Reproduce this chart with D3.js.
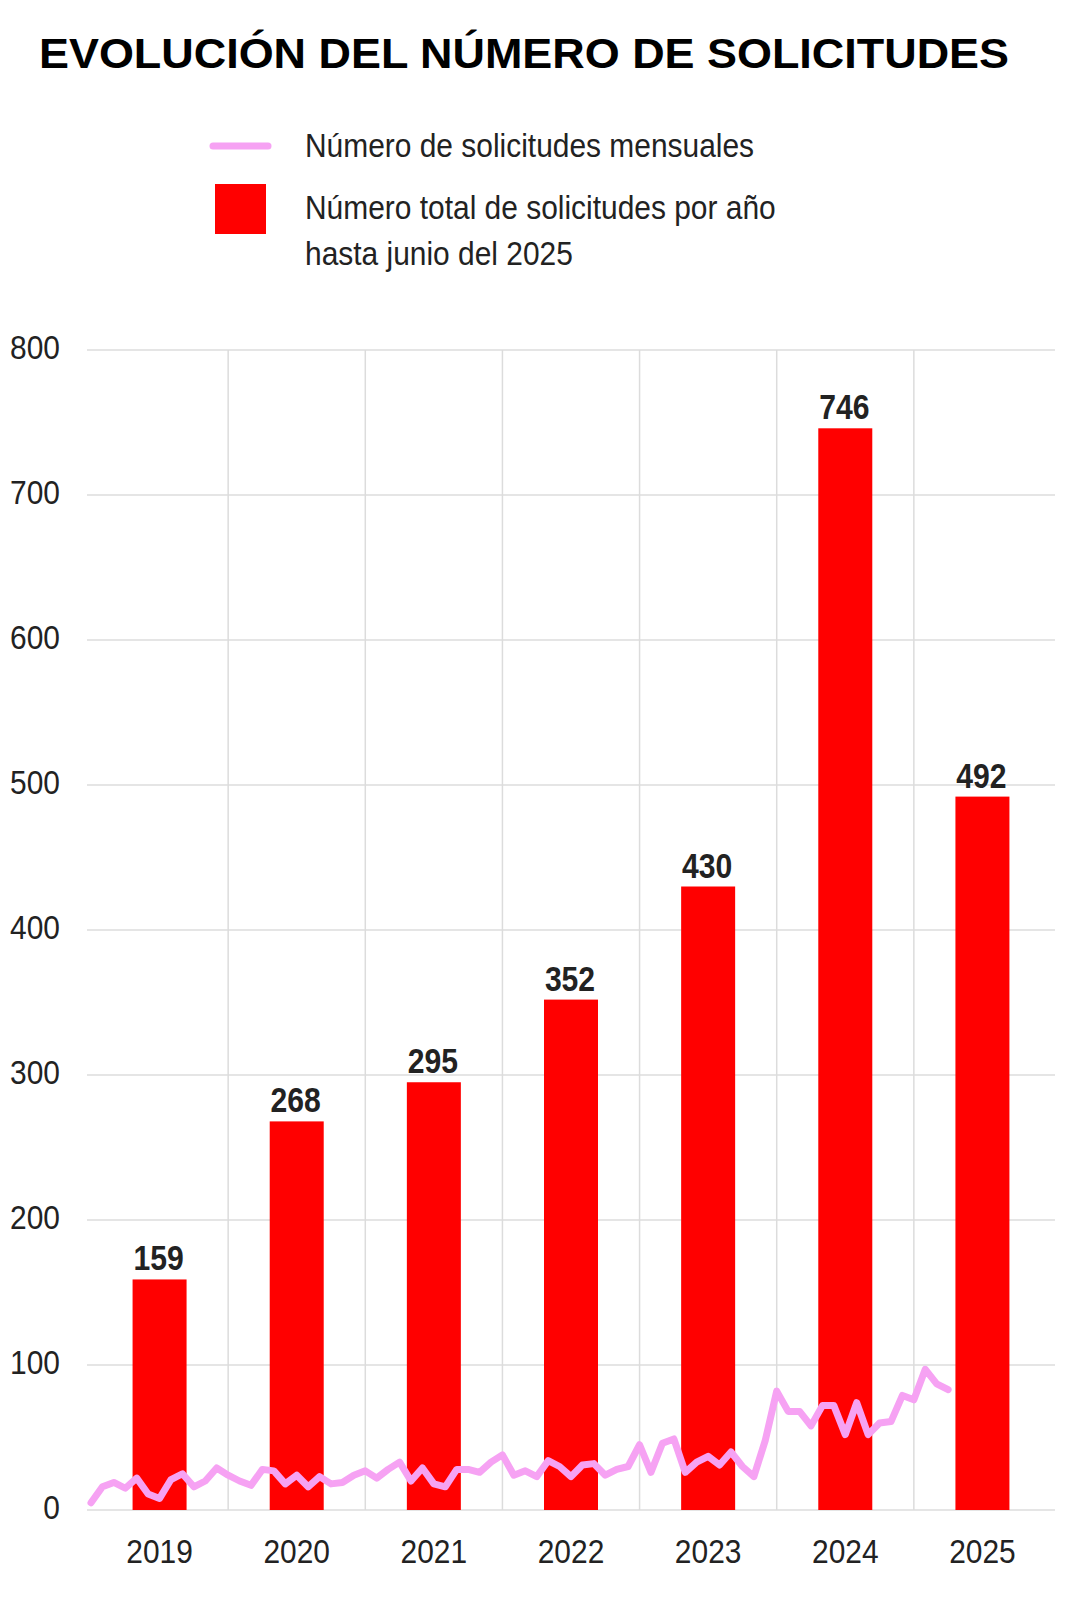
<!DOCTYPE html>
<html>
<head>
<meta charset="utf-8">
<script src="https://cdn.jsdelivr.net/npm/d3@7"></script>
<style>
  body { margin: 0; background: #fff; }
  text { font-family: "Liberation Sans", Arial, sans-serif; }
</style>
</head>
<body>
<div id="chart"></div>
<script>
// yearly totals (bars)
const years = ["2019", "2020", "2021", "2022", "2023", "2024", "2025"]
const totals = [159, 268, 295, 352, 430, 746, 492]

// monthly requests, from Jan 2019 onwards (line)
const monthly = [
  5, 16, 19, 15, 22, 11, 8, 21, 25, 16, 20, 29,
  24, 20, 17, 28, 27, 18, 24, 16, 23, 18, 19, 24,
  27, 22, 28, 33, 20, 29, 18, 16, 28, 28, 26, 33,
  38, 24, 27, 23, 34, 30, 23, 31, 32, 24, 28, 30,
  45, 26, 46, 49, 26, 33, 37, 31, 40, 30, 23, 48,
  82, 68, 68, 58, 72, 72, 52, 74, 52, 60, 61, 79,
  76, 97, 87, 83
]

const yTicks = [0, 100, 200, 300, 400, 500, 600, 700, 800]

const W = 1066, H = 1600
const narrow = 0.88   // squeeze regular text to look like a condensed face

const svg = d3.select("#chart")
  .append("svg")
    .attr("width", W)
    .attr("height", H)

// squeeze a text selection horizontally
const condense = (sel, k) => sel.each(function () {
  const w = this.getComputedTextLength()
  this.setAttribute("textLength", w * k)
  this.setAttribute("lengthAdjust", "spacingAndGlyphs")
})

// title
svg.append("text")
  .attr("x", 39)
  .attr("y", 68)
  .attr("font-size", 43)
  .attr("font-weight", "bold")
  .attr("fill", "#000")
  .attr("textLength", 970)
  .attr("lengthAdjust", "spacingAndGlyphs")
  .text("EVOLUCIÓN DEL NÚMERO DE SOLICITUDES")

// legend
const legend = svg.append("g")
legend.append("line")
  .attr("x1", 213).attr("x2", 268)
  .attr("y1", 146).attr("y2", 146)
  .attr("stroke", "#f6a2f3")
  .attr("stroke-width", 7)
  .attr("stroke-linecap", "round")
legend.append("rect")
  .attr("x", 215).attr("y", 184)
  .attr("width", 51).attr("height", 50)
  .attr("fill", "#ff0000")
legend.selectAll("text.lg")
  .data([["Número de solicitudes mensuales", 157],
         ["Número total de solicitudes por año", 219],
         ["hasta junio del 2025", 265]])
  .join("text")
    .attr("class", "lg")
    .attr("x", 305)
    .attr("y", d => d[1])
    .attr("font-size", 34)
    .attr("fill", "#222")
    .text(d => d[0])
    .call(condense, narrow)

// scales
const x = d3.scaleBand()
  .domain(years)
  .range([91, 1051])
  .padding(0)

const xm = d3.scaleLinear()
  .domain([0, years.length * 12])
  .range(x.range())

const y = d3.scaleLinear()
  .domain([0, 800])
  .range([1510, 350])

// horizontal grid
svg.append("g")
  .selectAll("line")
  .data(yTicks)
  .join("line")
    .attr("x1", 87).attr("x2", 1055)
    .attr("y1", d => y(d)).attr("y2", d => y(d))
    .attr("stroke", "#dcdcdc")
    .attr("stroke-width", 1.5)

// vertical grid between years
svg.append("g")
  .selectAll("line")
  .data(years.slice(1))
  .join("line")
    .attr("x1", d => x(d)).attr("x2", d => x(d))
    .attr("y1", y(800)).attr("y2", y(0))
    .attr("stroke", "#dcdcdc")
    .attr("stroke-width", 1.5)

// y axis labels
svg.append("g")
  .selectAll("text")
  .data(yTicks)
  .join("text")
    .attr("x", 60)
    .attr("y", d => y(d) + 9)
    .attr("text-anchor", "end")
    .attr("font-size", 34)
    .attr("fill", "#222")
    .text(d => d)
    .call(condense, narrow)

// bars
const barW = 54
svg.append("g")
  .selectAll("rect")
  .data(years)
  .join("rect")
    .attr("x", d => x(d) + x.bandwidth() / 2 - barW / 2)
    .attr("y", (d, i) => y(totals[i]))
    .attr("width", barW)
    .attr("height", (d, i) => y(0) - y(totals[i]))
    .attr("fill", "#ff0000")

// bar value labels
svg.append("g")
  .selectAll("text")
  .data(years)
  .join("text")
    .attr("x", d => x(d) + x.bandwidth() / 2 - 1)
    .attr("y", (d, i) => y(totals[i]) - 9)
    .attr("text-anchor", "middle")
    .attr("font-size", 35)
    .attr("font-weight", "bold")
    .attr("fill", "#222")
    .text((d, i) => totals[i])
    .call(condense, 0.86)

// x axis labels
svg.append("g")
  .selectAll("text")
  .data(years)
  .join("text")
    .attr("x", d => x(d) + x.bandwidth() / 2)
    .attr("y", 1563)
    .attr("text-anchor", "middle")
    .attr("font-size", 34)
    .attr("fill", "#222")
    .text(d => d)
    .call(condense, narrow)

// monthly line
const line = d3.line()
  .x((d, i) => xm(i))
  .y(d => y(d))

svg.append("path")
  .datum(monthly)
  .attr("d", line)
  .attr("fill", "none")
  .attr("stroke", "#f6a2f3")
  .attr("stroke-width", 7)
  .attr("stroke-linejoin", "round")
  .attr("stroke-linecap", "round")
</script>
</body>
</html>
